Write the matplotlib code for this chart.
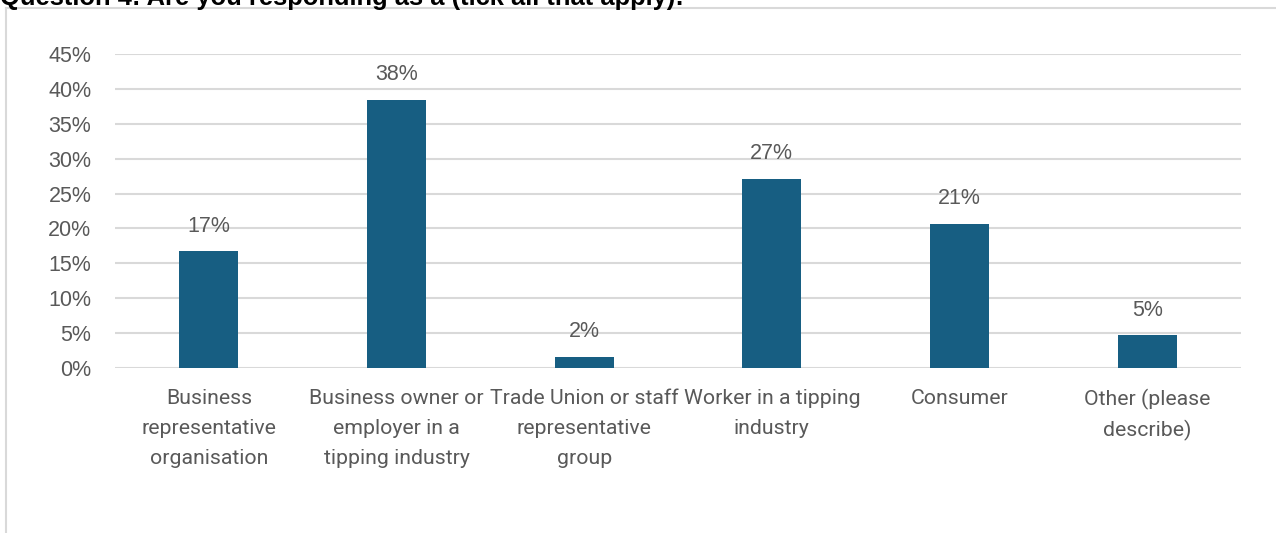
import matplotlib
matplotlib.use("Agg")

import matplotlib.pyplot as plt
import numpy as np
from matplotlib.lines import Line2D

categories = [
    "Business\nrepresentative\norganisation",
    "Business owner or\nemployer in a\ntipping industry",
    "Trade Union or staff\nrepresentative\ngroup",
    "Worker in a tipping\nindustry",
    "Consumer",
    "Other (please\ndescribe)",
]
shares = [16.7, 38.4, 1.6, 27.1, 20.7, 4.7]
yticks = [0, 5, 10, 15, 20, 25, 30, 35, 40, 45]

bar_color = "#175E82"
text_color = "#595959"
grid_color = "#D9D9D9"

W, H = 1276, 533
fig = plt.figure(figsize=(W / 100, H / 100), dpi=100)
fig.patch.set_facecolor("white")

# axes box in pixel coordinates: left 115, right 1241, top 54 (45%), bottom 368 (0%)
ax = fig.add_axes([115 / W, 1 - 368 / H, (1241 - 115) / W, (368 - 54) / H])

x = np.arange(len(categories))
ax.bar(x, shares, width=0.315, color=bar_color, zorder=3)

for xi, v in zip(x, shares):
    ax.text(xi, v + 2.1, f"{v:.0f}%", ha="center", va="bottom",
            fontsize=15.5, color=text_color, family="Liberation Sans")

ax.set_xlim(-0.5, len(categories) - 0.5)
ax.set_ylim(0, 45)
ax.set_yticks(yticks)
ax.set_yticklabels([f"{t}%" for t in yticks], fontsize=15.5, color=text_color,
                   family="Liberation Sans")
ax.set_xticks(x)
labels = ax.set_xticklabels(categories, fontsize=15.3, color=text_color,
                            family="Roboto", linespacing=1.74)
# parentheses make the line box taller, so tighten that one
labels[-1].set_linespacing(1.6)
ax.tick_params(axis="both", length=0)
ax.tick_params(axis="y", pad=17)
ax.tick_params(axis="x", pad=15)
ax.grid(axis="y", color=grid_color, linewidth=1.5, zorder=0)
for s in ax.spines.values():
    s.set_visible(False)

# chart frame lines (top and left edge)
fig.add_artist(Line2D([6 / W, 1], [1 - 8 / H, 1 - 8 / H], color=grid_color,
                      linewidth=1.5, transform=fig.transFigure))
fig.add_artist(Line2D([6 / W, 6 / W], [0, 1 - 8 / H], color=grid_color,
                      linewidth=1.5, transform=fig.transFigure))

# question title sits above the frame
fig.text(0 / W, 1 - 5 / H, "Question 4: Are you responding as a (tick all that apply):",
         ha="left", va="baseline", fontsize=18.4, fontweight="bold", color="black",
         family="Liberation Sans")

fig.savefig("out.png", dpi=100, facecolor="white")
